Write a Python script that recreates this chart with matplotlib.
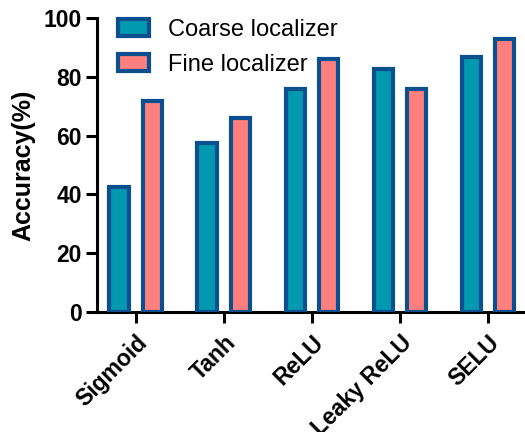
import numpy as np
import matplotlib
matplotlib.use("Agg")
import matplotlib.pyplot as plt

# data
categories = ["Sigmoid", "Tanh", "ReLU", "Leaky ReLU", "SELU"]
coarse = [42.5, 57.5, 75.8, 82.6, 86.7]
fine = [71.8, 66.0, 86.0, 76.0, 92.9]

plt.rcParams['font.family'] = ['Liberation Sans', 'DejaVu Sans']

fig = plt.figure(figsize=(5.25, 4.32), dpi=100)
ax = fig.add_axes([0.185, 0.278, 0.815, 0.68])

x = np.arange(len(categories))
w = 0.22
edge = "#0b4f8e"
ax.bar(x - 0.19, coarse, w, color="#0099b0", edgecolor=edge, linewidth=3, label="Coarse localizer", zorder=3)
ax.bar(x + 0.19, fine, w, color="#ff7f7f", edgecolor=edge, linewidth=3, label="Fine localizer", zorder=3)

ax.set_xlim(-0.44, 4.42)
ax.set_ylim(0, 100)
ax.set_yticks([0, 20, 40, 60, 80, 100])
ax.set_xticks(x)
ax.set_xticklabels(categories, rotation=45, ha="right", rotation_mode="anchor",
                   fontsize=16.5, fontweight="bold")
for t in ax.get_yticklabels():
    t.set_fontsize(16.5)
    t.set_fontweight("bold")
ax.set_ylabel("Accuracy(%)", fontsize=18, fontweight="bold", labelpad=6)

for s in ["top", "right"]:
    ax.spines[s].set_visible(False)
for s in ["left", "bottom"]:
    ax.spines[s].set_linewidth(2.2)
ax.tick_params(axis="both", width=2.2, length=8, direction="out")
ax.tick_params(axis="x", pad=6)
ax.tick_params(axis="y", pad=3)

ax.legend(loc="upper left", bbox_to_anchor=(0.0, 1.07), frameon=False, fontsize=17,
          handlelength=1.3, handleheight=0.7, labelspacing=0.55, handletextpad=0.8)

fig.savefig("out.png", dpi=100)
